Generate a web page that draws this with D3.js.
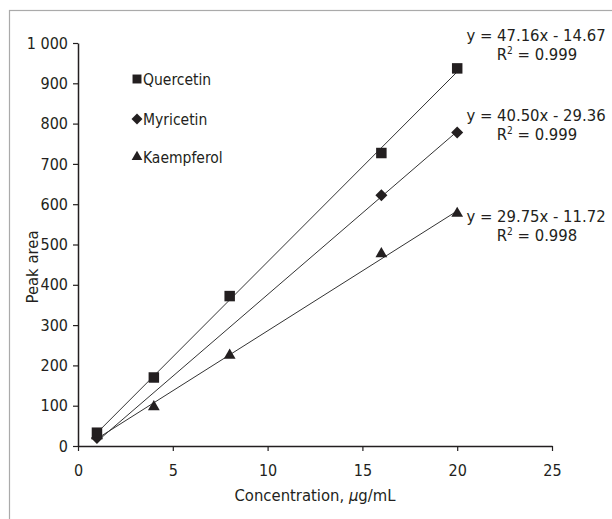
<!DOCTYPE html>
<html>
<head>
<meta charset="utf-8">
<script src="https://cdn.jsdelivr.net/npm/d3@7"></script>
<style>
  body { margin: 0; background: #fff; }
  text { font-family: "DejaVu Sans Condensed", "DejaVu Sans", sans-serif; font-stretch: condensed; fill: #231f20; }
</style>
</head>
<body>
<div id="chart"></div>
<script>
// data
var concentrations = [1, 4, 8, 16, 20];
var quercetin = [33, 170, 372, 727, 937];
var myricetinX = [1, 16, 20];
var myricetin = [20, 622, 778];
var kaempferolX = [1, 4, 8, 16, 20];
var kaempferol = [25, 97, 225, 477, 577];

var seriesNames = ["Quercetin", "Myricetin", "Kaempferol"];
var slopes = [47.16, 40.50, 29.75];
var intercepts = [-14.67, -29.36, -11.72];
var r2 = ["0.999", "0.999", "0.998"];
var equations = ["y = 47.16x - 14.67", "y = 40.50x - 29.36", "y = 29.75x - 11.72"];

var xTicks = [0, 5, 10, 15, 20, 25];
var yTicks = [0, 100, 200, 300, 400, 500, 600, 700, 800, 900, 1000];

var width = 612, height = 519;
var margin = {top: 43, right: 60, bottom: 73, left: 78};

var svg = d3.select("#chart").append("svg")
  .attr("width", width)
  .attr("height", height);

// outer frame
svg.append("rect")
  .attr("x", 9.5).attr("y", 10.5)
  .attr("width", 620).attr("height", 540)
  .attr("fill", "none")
  .attr("stroke", "#aaaaaa")
  .attr("stroke-width", 1.2);

var x = d3.scaleLinear().domain([0, 25]).range([margin.left, width - margin.right]);
var y = d3.scaleLinear().domain([0, 1000]).range([height - margin.bottom, margin.top]);

var xAxis = svg.append("g")
  .attr("transform", "translate(0," + y(0) + ")")
  .call(d3.axisBottom(x).tickValues(xTicks).tickSize(5).tickPadding(14).tickSizeOuter(0));
var yAxis = svg.append("g")
  .attr("transform", "translate(" + x(0) + ",0)")
  .call(d3.axisLeft(y).tickValues(yTicks).tickSize(5).tickPadding(5).tickSizeOuter(0)
    .tickFormat(function(d) { return d === 1000 ? "1 000" : d; }));

[xAxis, yAxis].forEach(function(g) {
  g.selectAll("text").style("font-size", "16px").attr("fill", "#231f20");
  g.selectAll("line").attr("stroke", "#231f20").attr("stroke-width", 1.2);
  g.select(".domain").attr("stroke", "#231f20").attr("stroke-width", 1.5);
});

// axis titles
svg.append("text")
  .attr("transform", "translate(32,267) rotate(-90)")
  .attr("text-anchor", "middle")
  .attr("dy", "0.35em")
  .style("font-size", "16.5px")
  .text("Peak area");

var xt = svg.append("text")
  .attr("x", x(12.5)).attr("y", 501)
  .attr("text-anchor", "middle")
  .style("font-size", "16.5px");
xt.append("tspan").text("Concentration, ");
xt.append("tspan").style("font-style", "italic").text("\u03bc");
xt.append("tspan").text("g/mL");

// trendlines
var trend = svg.append("g");
slopes.forEach(function(m, i) {
  trend.append("line")
    .attr("x1", x(1)).attr("y1", y(m * 1 + intercepts[i]))
    .attr("x2", x(20)).attr("y2", y(m * 20 + intercepts[i]))
    .attr("stroke", "#333")
    .attr("stroke-width", 1);
});

var sym = [d3.symbolSquare, d3.symbolSquare, d3.symbolTriangle];
var symSize = [110, 72, 60];
var symRot = [0, 45, 0];

function drawPoints(xs, ys, k) {
  svg.append("g").selectAll("path")
    .data(xs)
    .enter().append("path")
    .attr("d", d3.symbol().type(sym[k]).size(symSize[k]))
    .attr("transform", function(d, i) {
      return "translate(" + x(d) + "," + y(ys[i]) + ") rotate(" + symRot[k] + ")";
    })
    .attr("fill", "#231f20");
}
drawPoints(kaempferolX, kaempferol, 2);
drawPoints(myricetinX, myricetin, 1);
drawPoints(concentrations, quercetin, 0);

// legend
var legend = svg.append("g");
var legendY = [79, 119, 157];
seriesNames.forEach(function(n, i) {
  legend.append("path")
    .attr("d", d3.symbol().type(sym[i]).size([80, 60, 50][i]))
    .attr("transform", "translate(137," + legendY[i] + ") rotate(" + symRot[i] + ")")
    .attr("fill", "#231f20");
  legend.append("text")
    .attr("x", 143).attr("y", legendY[i] + 5.5)
    .style("font-size", "15.5px")
    .text(n);
});

// equation labels
var eqY = [41, 121, 222];
equations.forEach(function(e, i) {
  svg.append("text")
    .attr("x", 536).attr("y", eqY[i])
    .attr("text-anchor", "middle")
    .style("font-size", "16.5px")
    .text(e);
  var t = svg.append("text")
    .attr("x", 537).attr("y", eqY[i] + 19)
    .attr("text-anchor", "middle")
    .style("font-size", "16.5px");
  t.append("tspan").text("R");
  t.append("tspan").attr("dy", -6).style("font-size", "10px").text("2");
  t.append("tspan").attr("dy", 6).text(" = " + r2[i]);
});
</script>
</body>
</html>
